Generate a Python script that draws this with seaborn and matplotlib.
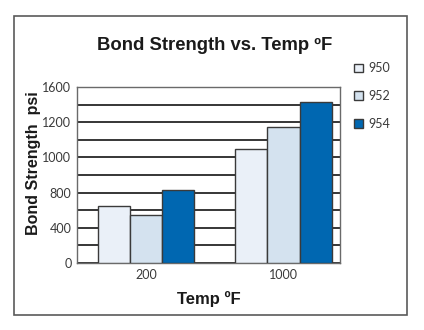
import numpy as np
import pandas as pd
import matplotlib
matplotlib.use("Agg")
import matplotlib.pyplot as plt
import seaborn as sns
from matplotlib.patches import Rectangle

# Bond strength (psi) by test temperature for each grade
temps = ["200", "1000"]
grades = ["950", "952", "954"]
strength_950 = [650, 1050]
strength_952 = [540, 1175]
strength_954 = [815, 1430]

# Axis labels as printed (unevenly spaced values on evenly spaced ticks)
ytick_values = [0, 400, 800, 1000, 1200, 1600]
ytick_labels = ["0", "400", "800", "1000", "1200", "1600"]

colors = ["#eaf0f8", "#d4e2ef", "#0067b1"]

df = pd.DataFrame({
    "temp": temps * 3,
    "grade": np.repeat(grades, len(temps)),
    "psi": strength_950 + strength_952 + strength_954,
})

sns.set_theme(style="white")
plt.rcParams["font.family"] = ["Liberation Sans", "DejaVu Sans"]

fig = plt.figure(figsize=(4.24, 3.30), dpi=100)
fig.patch.set_facecolor("white")

# outer frame of the panel
fig.patches.append(Rectangle((14 / 424, 1 - 315 / 330), 393 / 424, 299 / 330,
                             transform=fig.transFigure, fill=False,
                             edgecolor="#5a5a5a", linewidth=1.2, zorder=0))

ax = fig.add_axes([77 / 424, 1 - 263 / 330, 263 / 424, 176 / 330])

sns.barplot(data=df, x="temp", y="psi", hue="grade", order=temps,
            hue_order=grades, palette=colors, width=0.7, saturation=1,
            edgecolor="#3a3a3a", linewidth=1.0, ax=ax, legend=False,
            zorder=3)

# piecewise-linear value axis so each printed label sits one step apart
pos = np.arange(len(ytick_values), dtype=float)
vals = np.array(ytick_values, dtype=float)


def forward(v):
    return np.interp(v, vals, pos)


def inverse(p):
    return np.interp(p, pos, vals)


ax.set_yscale("function", functions=(forward, inverse))
ax.set_ylim(0, 1600)
ax.set_xlim(-0.5, 1.41)
ax.set_yticks(ytick_values)
ax.set_yticklabels(ytick_labels)
minor = [inverse(p + 0.5) for p in pos[:-1]]
ax.set_yticks(minor, minor=True)
ax.yaxis.grid(True, which="both", color="#262626", linewidth=1.3, zorder=1)
ax.set_axisbelow(True)

ax.tick_params(axis="both", length=0, labelsize=9, labelcolor="#3a3a3a",
               pad=4)
for lab in ax.get_xticklabels() + ax.get_yticklabels():
    lab.set_family(["Lato", "DejaVu Sans"])

for s in ax.spines.values():
    s.set_color("#6a6a6a")
    s.set_linewidth(1.0)

ax.set_xlabel("Temp ºF", fontsize=12, fontweight="bold", color="#1a1a1a")
ax.xaxis.set_label_coords(0.50, -28 / 176)
ax.set_ylabel("Bond Strength  psi", fontsize=11.5, fontweight="bold",
              color="#1a1a1a")
ax.yaxis.set_label_coords(-36 / 263, 100 / 176)

fig.text(215 / 424, 1 - 45 / 330, "Bond Strength vs. Temp ºF",
         ha="center", va="center", fontsize=13.3, fontweight="bold",
         color="#1a1a1a")

handles = [Rectangle((0, 0), 1, 1, facecolor=c, edgecolor="#3a3a3a",
                     linewidth=1.0) for c in colors]
leg = fig.legend(handles, grades, loc="upper left",
                 bbox_to_anchor=(343 / 424, 1 - 51 / 330), frameon=False,
                 handlelength=0.7, handleheight=0.7, handletextpad=0.45,
                 labelspacing=1.25, fontsize=9)
for t in leg.get_texts():
    t.set_color("#3a3a3a")
    t.set_family(["Lato", "DejaVu Sans"])

fig.savefig("out.png", dpi=100, facecolor="white")
